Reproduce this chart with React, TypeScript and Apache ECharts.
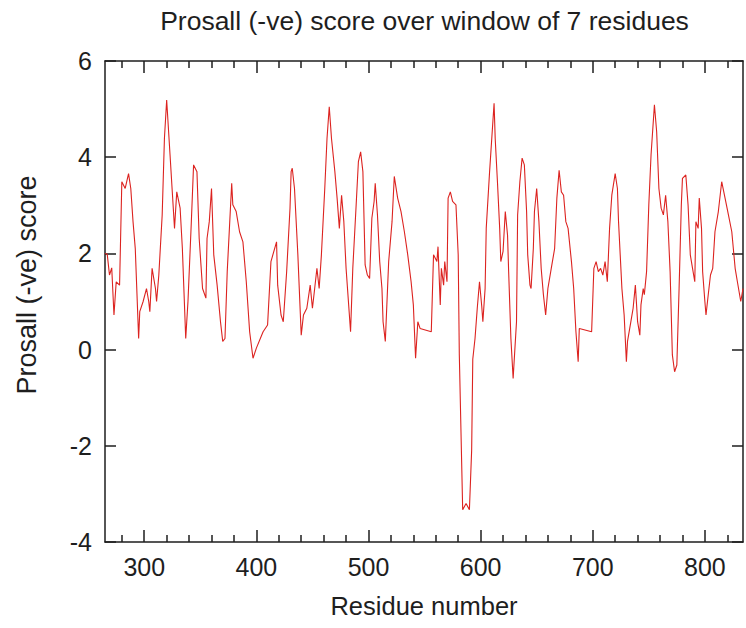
import React, { useEffect, useRef } from "react";
import * as echarts from "echarts";

const residues = [
  265, 267, 269, 271, 273, 275, 278, 280, 283, 286, 288, 290, 292, 295, 296, 299,
  302, 304, 305, 307, 310, 311, 313, 316, 318, 320, 323, 325, 327, 329, 332, 334,
  337, 339, 342, 344, 347, 349, 352, 355, 356, 358, 360, 362, 365, 368, 370, 372,
  374, 378, 379, 382, 385, 388, 391, 394, 397, 400, 406, 410, 413, 418, 419, 422,
  424, 427, 430, 431, 432, 434, 437, 440, 442, 445, 448, 450, 452, 454, 456, 458,
  461, 463, 465, 467, 470, 472, 474, 476, 478, 480, 484, 486, 489, 491, 493, 495,
  497, 499, 501, 503, 505, 506, 508, 510, 512, 513, 515, 518, 521, 523, 526, 529,
  532, 535, 538, 540, 542, 544, 546, 556, 558, 561, 562, 564, 565, 567, 568, 570,
  571, 573, 575, 578, 580, 581, 584, 587, 590, 592, 593, 595, 597, 599, 601, 602,
  604, 605, 608, 612, 613, 615, 617, 618, 620, 622, 624, 625, 627, 629, 632, 633,
  635, 637, 639, 641, 642, 644, 645, 647, 648, 650, 652, 654, 656, 658, 660, 663,
  666, 668, 670, 672, 674, 676, 678, 681, 683, 685, 687, 688, 699, 701, 703, 705,
  707, 709, 711, 713, 715, 717, 720, 722, 723, 726, 728, 730, 731, 734, 736, 738,
  740, 742, 743, 745, 746, 748, 750, 752, 755, 757, 759, 761, 763, 765, 767, 769,
  771, 773, 775, 777, 779, 780, 783, 785, 787, 789, 791, 792, 794, 795, 797, 798,
  800, 801, 803, 805, 807, 809, 812, 815, 818, 821, 824, 827, 829, 832, 834,
];

const scores = [
  2.0, 1.98, 1.55, 1.7, 0.72, 1.41, 1.34, 3.49, 3.35, 3.66, 3.35, 2.66, 2.1, 0.23, 0.79, 1.0,
  1.27, 1.0, 0.79, 1.69, 1.27, 1.0, 1.55, 2.8, 4.39, 5.19, 4.05, 3.28, 2.52, 3.28, 2.94, 2.1,
  0.23, 1.0, 2.66, 3.84, 3.7, 2.31, 1.27, 1.07, 2.31, 2.66, 3.35, 1.97, 1.34, 0.58, 0.17, 0.23,
  1.62, 3.46, 3.01, 2.87, 2.45, 2.24, 1.41, 0.37, -0.18, 0.03, 0.37, 0.51, 1.83, 2.24, 1.34, 0.72,
  0.58, 1.62, 2.94, 3.7, 3.77, 3.35, 1.97, 0.3, 0.72, 0.86, 1.34, 0.86, 1.27, 1.69, 1.27, 1.97,
  3.35, 4.39, 5.05, 4.39, 3.7, 3.15, 2.52, 3.21, 2.66, 1.69, 0.37, 1.69, 3.01, 3.91, 4.11, 3.7,
  1.76, 1.55, 1.48, 2.73, 3.08, 3.46, 2.8, 1.83, 1.27, 0.58, 0.17, 1.83, 2.66, 3.6, 3.15, 2.87,
  2.45, 1.97, 1.41, 0.93, -0.18, 0.58, 0.44, 0.37, 1.97, 1.83, 2.14, 0.93, 1.69, 1.34, 1.83, 1.41,
  3.15, 3.28, 3.08, 3.01, 1.97, -0.11, -3.33, -3.2, -3.33, -2.09, -0.2, 0.23, 0.86, 1.41, 0.9, 0.58,
  1.27, 2.52, 3.7, 5.12, 4.39, 3.49, 2.52, 1.83, 2.04, 2.87, 2.38, 1.62, 0.23, -0.6, 0.58, 2.8,
  3.49, 3.98, 3.84, 2.87, 1.97, 1.34, 1.27, 2.1, 2.87, 3.35, 2.66, 1.69, 1.14, 0.72, 1.27, 1.69,
  2.1, 3.15, 3.73, 3.28, 3.21, 2.66, 2.52, 1.83, 1.27, 0.37, -0.25, 0.44, 0.37, 1.69, 1.83, 1.62,
  1.69, 1.55, 1.83, 1.41, 2.52, 3.21, 3.66, 3.35, 2.66, 1.27, 0.72, -0.25, 0.17, 0.58, 0.86, 1.34,
  0.58, 0.3, 0.93, 1.27, 1.14, 1.62, 3.01, 4.05, 5.09, 4.53, 3.35, 2.94, 2.8, 3.21, 2.66, 1.62,
  -0.11, -0.46, -0.32, 1.27, 3.01, 3.56, 3.63, 3.01, 1.97, 1.69, 1.41, 2.66, 2.52, 3.15, 2.52, 1.62,
  1.0, 0.72, 1.14, 1.55, 1.69, 2.45, 2.87, 3.49, 3.15, 2.8, 2.45, 1.69, 1.41, 1.0, 1.27,
];

const xTickLabels = [300, 400, 500, 600, 700, 800];
const yTickLabels = [-4, -2, 0, 2, 4, 6];
const xMin = 265;
const xMax = 834;
const minorStep = 20;

const titleText = "Prosall (-ve) score over window of 7 residues";
const xName = "Residue number";
const yName = "Prosall (-ve) score";

export default function App() {
  const ref = useRef<HTMLDivElement>(null);

  useEffect(() => {
    if (!ref.current) return;
    const chart = echarts.init(ref.current, null, { renderer: "svg" });

    const xMinor: number[] = [];
    for (let v = Math.ceil(xMin / minorStep) * minorStep; v <= xMax; v += minorStep) {
      if (!xTickLabels.includes(v)) xMinor.push(v);
    }

    const font = '"Liberation Sans", Arial, Helvetica, sans-serif';
    const ink = "#1e1e1e";
    const border = { color: ink, width: 1.5 };

    const baseX = {
      type: "value" as const,
      min: xMin,
      max: xMax,
      splitLine: { show: false },
    };

    const option: any = {
      animation: false,
      backgroundColor: "#fff",
      grid: { left: 105, right: 3, top: 61, bottom: 86, containLabel: false },
      xAxis: [
        {
          ...baseX,
          position: "bottom",
          axisLine: { show: true, onZero: false, lineStyle: border },
          axisTick: { show: true, inside: true, length: 12, customValues: xTickLabels, lineStyle: border },
          axisLabel: { show: true, customValues: xTickLabels, fontFamily: font, fontSize: 25, color: ink, margin: 12 },
        },
        {
          ...baseX,
          position: "bottom",
          axisLine: { show: false, onZero: false },
          axisTick: { show: true, inside: true, length: 7, customValues: xMinor, lineStyle: border },
          axisLabel: { show: false },
        },
        {
          ...baseX,
          position: "top",
          axisLine: { show: true, onZero: false, lineStyle: border },
          axisTick: { show: true, inside: true, length: 12, customValues: xTickLabels, lineStyle: border },
          axisLabel: { show: false },
        },
        {
          ...baseX,
          position: "top",
          axisLine: { show: false, onZero: false },
          axisTick: { show: true, inside: true, length: 7, customValues: xMinor, lineStyle: border },
          axisLabel: { show: false },
        },
      ],
      yAxis: [
        {
          type: "value",
          min: yTickLabels[0],
          max: yTickLabels[yTickLabels.length - 1],
          interval: 2,
          position: "left",
          splitLine: { show: false },
          axisLine: { show: true, onZero: false, lineStyle: border },
          axisTick: { show: true, inside: true, length: 11, lineStyle: border },
          axisLabel: { fontFamily: font, fontSize: 25, color: ink, margin: 13 },
        },
        {
          type: "value",
          min: yTickLabels[0],
          max: yTickLabels[yTickLabels.length - 1],
          interval: 2,
          position: "right",
          splitLine: { show: false },
          axisLine: { show: true, onZero: false, lineStyle: border },
          axisTick: { show: true, inside: true, length: 11, lineStyle: border },
          axisLabel: { show: false },
        },
      ],
      series: [
        {
          type: "line",
          xAxisIndex: 0,
          yAxisIndex: 0,
          data: residues.map((r, i) => [r, scores[i]]),
          showSymbol: false,
          symbol: "none",
          lineStyle: { color: "#dc2320", width: 1.1 },
          z: 1,
        },
      ],
      graphic: [
        {
          type: "text",
          x: 424.5,
          y: 20.5,
          style: {
            text: titleText,
            fontFamily: font,
            fontSize: 26.5,
            fill: ink,
            textAlign: "center",
            textVerticalAlign: "middle",
          },
        },
        {
          type: "text",
          x: 27,
          y: 285,
          rotation: Math.PI / 2,
          style: {
            text: yName,
            fontFamily: font,
            fontSize: 27,
            fill: ink,
            textAlign: "center",
            textVerticalAlign: "middle",
          },
        },
        {
          type: "text",
          x: 424,
          y: 606,
          style: {
            text: xName,
            fontFamily: font,
            fontSize: 25.5,
            fill: ink,
            textAlign: "center",
            textVerticalAlign: "middle",
          },
        },
      ],
    };

    chart.setOption(option);
    return () => chart.dispose();
  }, []);

  return (
    <div
      ref={ref}
      style={{ position: "absolute", left: 0, top: 0, width: 746, height: 628 }}
    />
  );
}
